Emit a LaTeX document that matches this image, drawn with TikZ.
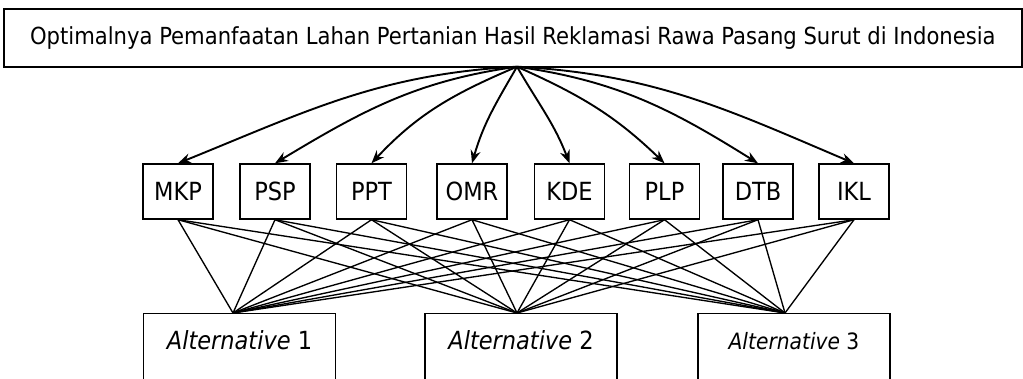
\documentclass[tikz,border=0pt]{standalone}
\usepackage{fontspec}
\setmainfont{DejaVu Sans Condensed}
\usetikzlibrary{arrows.meta}
\begin{document}
\begin{tikzpicture}[x=1pt,y=1pt,
 box/.style={draw,line width=1.4pt,inner sep=0pt},
 crit/.style={box,minimum width=70pt,minimum height=55pt,font=\fontsize{25}{28}\selectfont},
 alt/.style={box,anchor=north,minimum width=192pt,text height=36pt,text depth=60pt,font=\fontsize{25}{28}\selectfont},
 arr/.style={line width=1.9pt,-{Stealth[length=13pt,width=10pt]}},
 link/.style={line width=1.35pt}]
\useasboundingbox (0,0) rectangle (1023,-378);
\clip (0,0) rectangle (1023,-378);

\node[box,minimum width=1018pt,minimum height=58pt,font=\fontsize{23.5}{26}\selectfont] (goal) at (513,-38)
 {Optimalnya Pemanfaatan Lahan Pertanian Hasil Reklamasi Rawa Pasang Surut di Indonesia};

\node[crit] (mkp) at (178,-191.5) {MKP};
\node[crit] (psp) at (275,-191.5) {PSP};
\node[crit] (ppt) at (371.5,-191.5) {PPT};
\node[crit] (omr) at (472,-191.5) {OMR};
\node[crit] (kde) at (569.5,-191.5) {KDE};
\node[crit] (plp) at (664.5,-191.5) {PLP};
\node[crit] (dtb) at (758,-191.5) {DTB};
\node[crit] (ikl) at (854,-191.5) {IKL};

\node[alt] (a1) at (239.5,-313) {\textit{Alternative} 1};
\node[alt] (a2) at (521,-313) {\textit{Alternative} 2};
\node[alt,font=\fontsize{22.5}{26}\selectfont] (a3) at (794,-313) {\textit{Alternative} 3};

\coordinate (src) at ([xshift=4pt,yshift=1pt]goal.south);
\draw[arr] (src) to[out=183,in=22] (mkp.north);
\draw[arr] (src) to[out=188,in=31] (psp.north);
\draw[arr] (src) to[out=203,in=47] (ppt.north);
\draw[arr] (src) to[out=240,in=74] (omr.north);
\draw[arr] (src) to[out=-60,in=111] (kde.north);
\draw[arr] (src) to[out=-24,in=136] (plp.north);
\draw[arr] (src) to[out=-8,in=148] (dtb.north);
\draw[arr] (src) to[out=-3,in=157] (ikl.north);

\coordinate (t1) at ([xshift=-6.5pt]a1.north);
\coordinate (t2) at ([xshift=-4pt]a2.north);
\coordinate (t3) at ([xshift=-9pt]a3.north);
\foreach \c in {mkp,psp,ppt,omr,kde,plp,dtb,ikl}{
  \foreach \t in {t1,t2,t3}{
    \draw[link] (\c.south) -- (\t);
  }
}
\end{tikzpicture}
\end{document}
